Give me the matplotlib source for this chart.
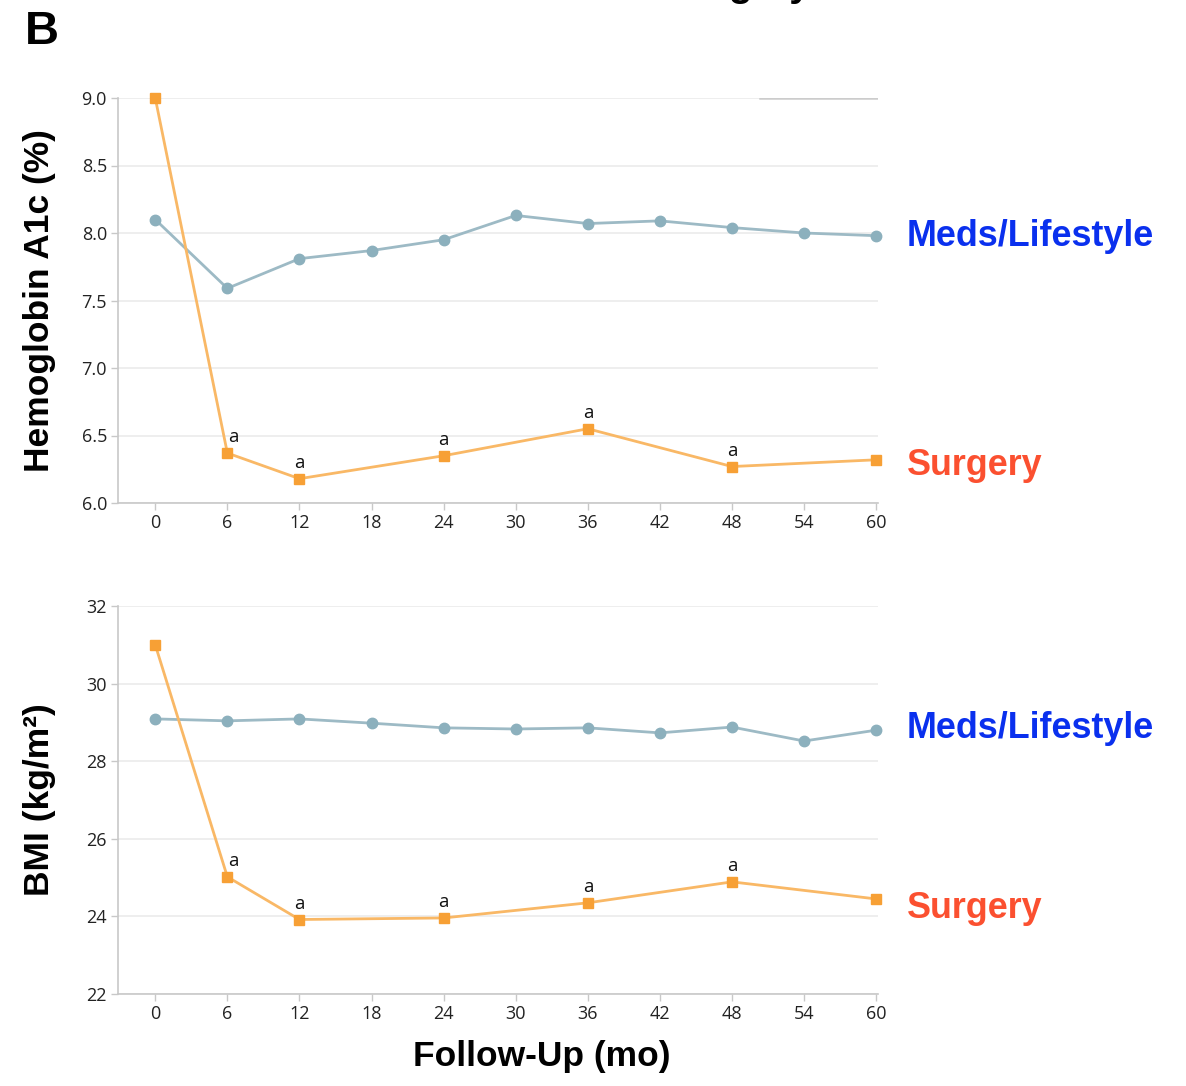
import matplotlib
matplotlib.use("Agg")
import matplotlib.pyplot as plt

# ======================
# DATA
# ======================
months_meds = [0, 6, 12, 18, 24, 30, 36, 42, 48, 54, 60]
months_surg = [0, 6, 12, 24, 36, 48, 60]

a1c_meds = [8.10, 7.59, 7.81, 7.87, 7.95, 8.13, 8.07, 8.09, 8.04, 8.00, 7.98]
a1c_surg = [9.00, 6.37, 6.18, 6.35, 6.55, 6.27, 6.32]
a1c_sig = [False, True, True, True, True, True, False]

bmi_meds = [29.09, 29.04, 29.09, 28.98, 28.86, 28.83, 28.86, 28.73, 28.88, 28.52, 28.80]
bmi_surg = [31.00, 25.02, 23.92, 23.96, 24.35, 24.89, 24.45]
bmi_sig = [False, True, True, True, True, True, False]

xticks = [0, 6, 12, 18, 24, 30, 36, 42, 48, 54, 60]
a1c_ticks = [6.0, 6.5, 7.0, 7.5, 8.0, 8.5, 9.0]
bmi_ticks = [22, 24, 26, 28, 30, 32]

# ======================
# STYLE
# ======================
MEDS_LINE = "#9dbac5"
MEDS_MARK = "#8cb0bd"
SURG_LINE = "#f9b866"
SURG_MARK = "#f7a035"
BLUE = "#0a30ee"
RED = "#fb5030"
TICKFONT = ["Open Sans", "DejaVu Sans"]
BOLDFONT = ["Liberation Sans", "DejaVu Sans"]

fig = plt.figure(figsize=(11.86, 10.86), dpi=100)
W, H = 1186, 1086


def box(x0, y0, x1, y1):
    # pixel box -> figure fraction
    return [x0 / W, 1 - y1 / H, (x1 - x0) / W, (y1 - y0) / H]


ax1 = fig.add_axes(box(118, 98, 878, 503))
ax2 = fig.add_axes(box(118, 606, 878, 994))


def style_axis(ax, yticks, ylim, fmt):
    ax.set_xlim(-3.1, 60.15)
    ax.set_ylim(*ylim)
    ax.set_xticks(xticks)
    ax.set_yticks(yticks)
    ax.set_yticklabels([fmt.format(v) for v in yticks], fontfamily=TICKFONT, fontsize=13)
    ax.set_xticklabels([str(v) for v in xticks], fontfamily=TICKFONT, fontsize=13)
    for s in ["top", "right"]:
        ax.spines[s].set_visible(False)
    for s in ["left", "bottom"]:
        ax.spines[s].set_color("#c8c8c8")
        ax.spines[s].set_linewidth(1.2)
    ax.tick_params(colors="#c8c8c8", labelcolor="#222222", length=5, width=1.0, pad=3)
    ax.grid(axis="y", color="#ebebeb", linewidth=1.2)
    ax.set_axisbelow(True)


def draw(ax, meds, surg, sig):
    ax.plot(months_meds, meds, color=MEDS_LINE, lw=2, marker="o", ms=7.5,
            mfc=MEDS_MARK, mec=MEDS_MARK, zorder=3, clip_on=False)
    ax.plot(months_surg, surg, color=SURG_LINE, lw=2, marker="s", ms=7,
            mfc=SURG_MARK, mec=SURG_MARK, zorder=4, clip_on=False)
    for i, (m, v, s) in enumerate(zip(months_surg, surg, sig)):
        if s:
            dx = 4 if i == 1 else 0
            ax.annotate("a", (m, v), xytext=(dx, 5), textcoords="offset points",
                        ha="center", va="bottom", fontsize=13.5,
                        fontfamily=TICKFONT, color="#111111")


style_axis(ax1, a1c_ticks, (6.0, 9.0), "{:.1f}")
style_axis(ax2, bmi_ticks, (22, 32), "{:d}")
draw(ax1, a1c_meds, a1c_surg, a1c_sig)
draw(ax2, bmi_meds, bmi_surg, bmi_sig)

# odd darker segment on the top gridline
ax1.axhline(9.0, xmin=0.845, xmax=1.0, color="#cccccc", lw=1.8, zorder=1)

# ======================
# LABELS
# ======================
ax1.set_ylabel("Hemoglobin A1c (%)", fontsize=25.5, fontweight="bold",
               fontfamily=BOLDFONT)
ax2.set_ylabel("BMI (kg/m²)", fontsize=25.5, fontweight="bold",
               fontfamily=BOLDFONT)
ax1.yaxis.set_label_coords(-0.081, 0.5)
ax2.yaxis.set_label_coords(-0.081, 0.5)
ax2.set_xlabel("Follow-Up (mo)", fontsize=25.5, fontweight="bold",
               fontfamily=BOLDFONT)
ax2.xaxis.set_label_coords(0.558, -0.118)

for y, label, col in [(237, "Meds/Lifestyle", BLUE), (465, "Surgery", RED),
                      (728, "Meds/Lifestyle", BLUE), (908, "Surgery", RED)]:
    fig.text(907 / W, 1 - y / H, label, color=col, fontsize=25.8,
             fontweight="bold", fontfamily=BOLDFONT, va="center", ha="left")

fig.text(25 / W, 1 - 44 / H, "B", fontsize=34, fontweight="bold",
         fontfamily=BOLDFONT, va="baseline", ha="left")
# bottom of the cut-off panel title
fig.text(812 / W, 1 + 4 / H, "Surgery", fontsize=28, fontweight="bold",
         fontfamily=BOLDFONT, va="baseline", ha="right")

fig.savefig("out.png", dpi=100)
